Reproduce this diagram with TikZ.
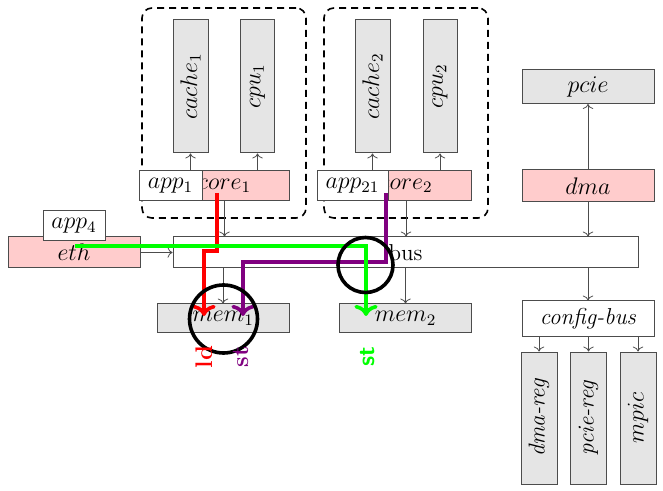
\documentclass[tikz,border=0pt]{standalone}
\usetikzlibrary{arrows.meta}
\definecolor{mypurple}{RGB}{128,0,128}
\begin{document}
\begin{tikzpicture}[x=0.5pt,y=-0.5pt,
  box/.style={draw=black!70, line width=0.5pt, inner sep=0pt, font=\fontsize{11.5}{13}\selectfont},
  gbox/.style={box, fill=black!10},
  pbox/.style={box, fill=red!20},
  wbox/.style={box, fill=white},
  group/.style={draw=black, dash pattern=on 3.5pt off 2.5pt, line width=0.8pt, rounded corners=5pt, inner sep=0pt},
  conn/.style={draw=black!70, line width=0.4pt, ->},
  path/.style={line width=1.8pt, ->},
  ring/.style={draw=black, line width=1.8pt}]
\useasboundingbox (0,0) rectangle (663,491);
% groups
\node[group, minimum width=82pt, minimum height=105pt] (g1) at (224,113) {};
\node[group, minimum width=82pt, minimum height=105pt] (g2) at (406,113) {};
% cluster 1
\node[gbox, minimum width=17.5pt, minimum height=66.5pt] (cache1) at (190.5,86.5) {\rotatebox{90}{$cache_1$}};
\node[gbox, minimum width=17pt, minimum height=66.5pt] (cpu1) at (257.5,86.5) {\rotatebox{90}{$cpu_1$}};
\node[pbox, minimum width=64.5pt, minimum height=15pt] (core1) at (224.5,186) {$core_1$};
% cluster 2
\node[gbox, minimum width=17.5pt, minimum height=66.5pt] (cache2) at (372.5,86.5) {\rotatebox{90}{$cache_2$}};
\node[gbox, minimum width=17pt, minimum height=66.5pt] (cpu2) at (440,86.5) {\rotatebox{90}{$cpu_2$}};
\node[pbox, minimum width=65pt, minimum height=15pt] (core2) at (406,186) {$core_2$};
% others
\node[pbox, minimum width=66pt, minimum height=15.5pt] (eth) at (74,252.5) {$eth$};
\node[wbox, minimum width=31pt, minimum height=15pt] (app4) at (74,226) {$app_4$};
\node[wbox, minimum width=232.5pt, minimum height=15.5pt] (bus) at (405.5,252.5) {bus};
\node[gbox, minimum width=66pt, minimum height=14.5pt] (mem1) at (223,318.5) {$mem_1$};
\node[gbox, minimum width=66pt, minimum height=14.5pt] (mem2) at (405.5,318.5) {$mem_2$};
\node[gbox, minimum width=66pt, minimum height=17pt] (pcie) at (588,86.5) {$pcie$};
\node[pbox, minimum width=66pt, minimum height=16pt] (dma) at (588,186) {$dma$};
\node[wbox, minimum width=66pt, minimum height=18pt] (cbus) at (588,319) {\textit{config-bus}};
\node[gbox, minimum width=18pt, minimum height=66pt] (dmareg) at (539,418) {\rotatebox{90}{\textit{dma-reg}}};
\node[gbox, minimum width=18pt, minimum height=66pt] (pciereg) at (588.5,418) {\rotatebox{90}{\textit{pcie-reg}}};
\node[gbox, minimum width=18pt, minimum height=66pt] (mpic) at (638,418) {\rotatebox{90}{$mpic$}};
% connectors
\draw[conn] (cache1.south |- core1.north) -- (cache1.south);
\draw[conn] (cpu1.south |- core1.north) -- (cpu1.south);
\draw[conn] (cache2.south |- core2.north) -- (cache2.south);
\draw[conn] (cpu2.south |- core2.north) -- (cpu2.south);
\draw[conn] (core1.south) -- (core1.south |- bus.north);
\draw[conn] (core2.south) -- (core2.south |- bus.north);
\draw[conn] (eth.east) -- (bus.west);
\draw[conn] (mem1.north |- bus.south) -- (mem1.north);
\draw[conn] (mem2.north |- bus.south) -- (mem2.north);
\draw[conn] (dma.north) -- (pcie.south);
\draw[conn] (dma.south) -- (dma.south |- bus.north);
\draw[conn] (cbus.north |- bus.south) -- (cbus.north);
\draw[conn] (dmareg.north |- cbus.south) -- (dmareg.north);
\draw[conn] (pciereg.north |- cbus.south) -- (pciereg.north);
\draw[conn] (mpic.north |- cbus.south) -- (mpic.north);
% app overlays
\node[wbox, minimum width=31.5pt, minimum height=15pt] (app1) at (170.5,186) {$app_1$};
\node[wbox, minimum width=35.5pt, minimum height=15pt] (app21) at (352.5,186) {$app_{21}$};
% coloured paths
\coordinate (r0) at (217,193);
\coordinate (p0) at (386,193);
\coordinate (q0) at (75,246);
\coordinate (r1) at (204,316);
\coordinate (p1) at (243,316);
\coordinate (q1) at (366,316);
\draw[path, red] (r0) -- (217,251) -- (204,251) -- (r1);
\draw[path, mypurple] (p0) -- (386,262) -- (243,262) -- (p1);
\draw[path, green] (q0) -- (366,246) -- (q1);
% circles
\node[ring, circle, minimum size=34pt, inner sep=0pt] (c1) at (223.5,319) {};
\node[ring, circle, minimum size=27.5pt, inner sep=0pt] (c2) at (365.5,265) {};
% labels
\node[red, rotate=90, font=\large\bfseries, inner sep=0pt] (ld) at (204,357) {ld};
\node[mypurple, rotate=90, font=\large\bfseries, inner sep=0pt] (st1) at (241,357) {st};
\node[green, rotate=90, font=\large\sffamily\bfseries, inner sep=0pt] (st2) at (368,357) {st};
\end{tikzpicture}
\end{document}
